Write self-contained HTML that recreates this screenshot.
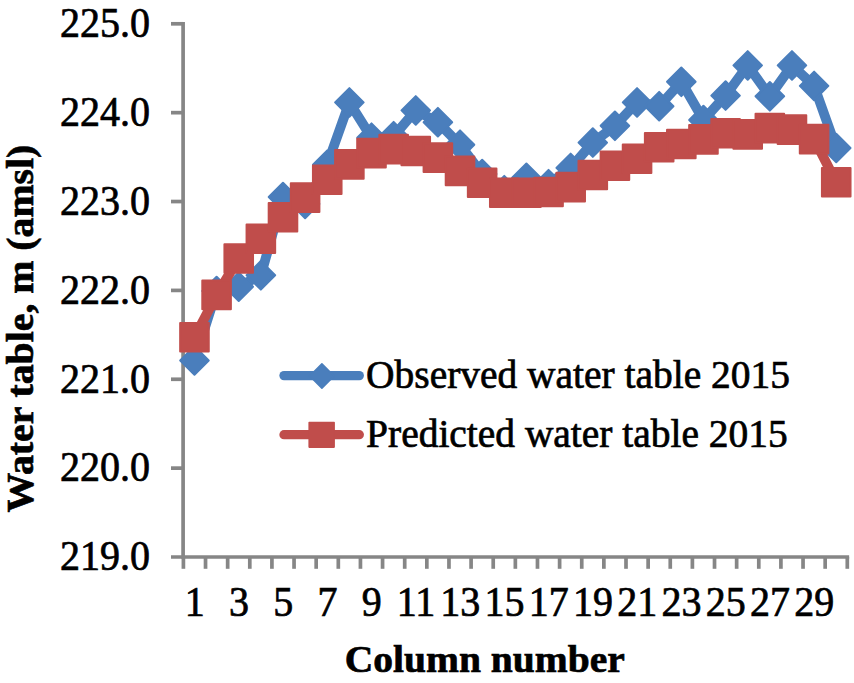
<!DOCTYPE html>
<html><head><meta charset="utf-8"><title>chart</title>
<style>html,body{margin:0;padding:0;background:#fff;}body{width:854px;height:683px;overflow:hidden;}svg{display:block;}text{font-family:"Liberation Serif",serif;fill:#000;stroke:#000;stroke-width:0.7px;}</style></head><body>
<svg width="854" height="683" viewBox="0 0 854 683">
<rect width="854" height="683" fill="#fff"/>
<g stroke="#868686" stroke-width="3.7" fill="none">
<line x1="183.1" y1="21.95" x2="183.1" y2="558.85"/>
<line x1="171" y1="557.0" x2="849.15" y2="557.0"/>
<line x1="171" y1="23.80" x2="183.1" y2="23.80"/>
<line x1="171" y1="112.67" x2="183.1" y2="112.67"/>
<line x1="171" y1="201.53" x2="183.1" y2="201.53"/>
<line x1="171" y1="290.40" x2="183.1" y2="290.40"/>
<line x1="171" y1="379.27" x2="183.1" y2="379.27"/>
<line x1="171" y1="468.13" x2="183.1" y2="468.13"/>
<line x1="183.40" y1="557.0" x2="183.40" y2="568.8"/>
<line x1="205.53" y1="557.0" x2="205.53" y2="568.8"/>
<line x1="227.66" y1="557.0" x2="227.66" y2="568.8"/>
<line x1="249.79" y1="557.0" x2="249.79" y2="568.8"/>
<line x1="271.92" y1="557.0" x2="271.92" y2="568.8"/>
<line x1="294.05" y1="557.0" x2="294.05" y2="568.8"/>
<line x1="316.18" y1="557.0" x2="316.18" y2="568.8"/>
<line x1="338.31" y1="557.0" x2="338.31" y2="568.8"/>
<line x1="360.44" y1="557.0" x2="360.44" y2="568.8"/>
<line x1="382.57" y1="557.0" x2="382.57" y2="568.8"/>
<line x1="404.70" y1="557.0" x2="404.70" y2="568.8"/>
<line x1="426.83" y1="557.0" x2="426.83" y2="568.8"/>
<line x1="448.96" y1="557.0" x2="448.96" y2="568.8"/>
<line x1="471.09" y1="557.0" x2="471.09" y2="568.8"/>
<line x1="493.22" y1="557.0" x2="493.22" y2="568.8"/>
<line x1="515.35" y1="557.0" x2="515.35" y2="568.8"/>
<line x1="537.48" y1="557.0" x2="537.48" y2="568.8"/>
<line x1="559.61" y1="557.0" x2="559.61" y2="568.8"/>
<line x1="581.74" y1="557.0" x2="581.74" y2="568.8"/>
<line x1="603.87" y1="557.0" x2="603.87" y2="568.8"/>
<line x1="626.00" y1="557.0" x2="626.00" y2="568.8"/>
<line x1="648.13" y1="557.0" x2="648.13" y2="568.8"/>
<line x1="670.26" y1="557.0" x2="670.26" y2="568.8"/>
<line x1="692.39" y1="557.0" x2="692.39" y2="568.8"/>
<line x1="714.52" y1="557.0" x2="714.52" y2="568.8"/>
<line x1="736.65" y1="557.0" x2="736.65" y2="568.8"/>
<line x1="758.78" y1="557.0" x2="758.78" y2="568.8"/>
<line x1="780.91" y1="557.0" x2="780.91" y2="568.8"/>
<line x1="803.04" y1="557.0" x2="803.04" y2="568.8"/>
<line x1="825.17" y1="557.0" x2="825.17" y2="568.8"/>
<line x1="847.30" y1="557.0" x2="847.30" y2="568.8"/>
</g>
<text transform="translate(149.90,37.10) scale(1.0,1.035)" font-size="40" text-anchor="end">225.0</text>
<text transform="translate(149.90,125.97) scale(1.0,1.035)" font-size="40" text-anchor="end">224.0</text>
<text transform="translate(149.90,214.83) scale(1.0,1.035)" font-size="40" text-anchor="end">223.0</text>
<text transform="translate(149.90,303.70) scale(1.0,1.035)" font-size="40" text-anchor="end">222.0</text>
<text transform="translate(149.90,392.57) scale(1.0,1.035)" font-size="40" text-anchor="end">221.0</text>
<text transform="translate(149.90,481.43) scale(1.0,1.035)" font-size="40" text-anchor="end">220.0</text>
<text transform="translate(149.90,570.30) scale(1.0,1.035)" font-size="40" text-anchor="end">219.0</text>
<text transform="translate(194.66,616.30) scale(1.0,1.035)" font-size="40" text-anchor="middle">1</text>
<text transform="translate(238.92,616.30) scale(1.0,1.035)" font-size="40" text-anchor="middle">3</text>
<text transform="translate(283.19,616.30) scale(1.0,1.035)" font-size="40" text-anchor="middle">5</text>
<text transform="translate(327.44,616.30) scale(1.0,1.035)" font-size="40" text-anchor="middle">7</text>
<text transform="translate(371.70,616.30) scale(1.0,1.035)" font-size="40" text-anchor="middle">9</text>
<text transform="translate(415.96,616.30) scale(1.0,1.035)" font-size="40" text-anchor="middle">11</text>
<text transform="translate(460.22,616.30) scale(1.0,1.035)" font-size="40" text-anchor="middle">13</text>
<text transform="translate(504.48,616.30) scale(1.0,1.035)" font-size="40" text-anchor="middle">15</text>
<text transform="translate(548.75,616.30) scale(1.0,1.035)" font-size="40" text-anchor="middle">17</text>
<text transform="translate(593.00,616.30) scale(1.0,1.035)" font-size="40" text-anchor="middle">19</text>
<text transform="translate(637.26,616.30) scale(1.0,1.035)" font-size="40" text-anchor="middle">21</text>
<text transform="translate(681.52,616.30) scale(1.0,1.035)" font-size="40" text-anchor="middle">23</text>
<text transform="translate(725.78,616.30) scale(1.0,1.035)" font-size="40" text-anchor="middle">25</text>
<text transform="translate(770.04,616.30) scale(1.0,1.035)" font-size="40" text-anchor="middle">27</text>
<text transform="translate(814.30,616.30) scale(1.0,1.035)" font-size="40" text-anchor="middle">29</text>
<text transform="translate(484.70,671.70) scale(1.0,0.98)" font-size="39.55" text-anchor="middle" font-weight="bold">Column number</text>
<text transform="translate(33.10,328.70) rotate(-90) scale(1.0,0.945)" font-size="39.75" text-anchor="middle" font-weight="bold">Water table, m (amsl)</text>
<polyline points="194.47,360.50 216.59,291.00 238.72,286.70 260.86,275.30 282.99,197.00 305.12,203.90 327.25,164.70 349.38,102.40 371.50,137.70 393.63,136.20 415.76,110.40 437.89,122.20 460.02,144.70 482.15,174.00 504.28,190.20 526.41,177.80 548.54,184.20 570.67,167.90 592.80,142.60 614.93,125.80 637.06,102.40 659.19,106.20 681.32,81.80 703.45,120.00 725.58,95.60 747.71,65.40 769.84,96.30 791.97,65.40 814.10,85.90 836.23,148.00" fill="none" stroke="#4a7ebc" stroke-width="9.8" stroke-linejoin="round" stroke-linecap="round"/>
<g fill="#4a7ebc" stroke="#4a7ebc" stroke-width="2" stroke-linejoin="round">
<path d="M194.47 346.21L208.75 360.50L194.47 374.79L180.18 360.50Z"/>
<path d="M216.59 276.71L230.88 291.00L216.59 305.29L202.31 291.00Z"/>
<path d="M238.72 272.41L253.01 286.70L238.72 300.99L224.44 286.70Z"/>
<path d="M260.86 261.01L275.15 275.30L260.86 289.59L246.57 275.30Z"/>
<path d="M282.99 182.71L297.28 197.00L282.99 211.29L268.69 197.00Z"/>
<path d="M305.12 189.61L319.41 203.90L305.12 218.19L290.82 203.90Z"/>
<path d="M327.25 150.41L341.54 164.70L327.25 178.99L312.95 164.70Z"/>
<path d="M349.38 88.11L363.67 102.40L349.38 116.69L335.08 102.40Z"/>
<path d="M371.50 123.41L385.80 137.70L371.50 151.99L357.21 137.70Z"/>
<path d="M393.63 121.91L407.93 136.20L393.63 150.49L379.34 136.20Z"/>
<path d="M415.76 96.11L430.06 110.40L415.76 124.69L401.47 110.40Z"/>
<path d="M437.89 107.91L452.19 122.20L437.89 136.49L423.60 122.20Z"/>
<path d="M460.02 130.41L474.31 144.70L460.02 158.99L445.73 144.70Z"/>
<path d="M482.15 159.71L496.44 174.00L482.15 188.29L467.86 174.00Z"/>
<path d="M504.28 175.91L518.57 190.20L504.28 204.49L489.99 190.20Z"/>
<path d="M526.41 163.51L540.70 177.80L526.41 192.09L512.12 177.80Z"/>
<path d="M548.54 169.91L562.83 184.20L548.54 198.49L534.25 184.20Z"/>
<path d="M570.67 153.61L584.96 167.90L570.67 182.19L556.38 167.90Z"/>
<path d="M592.80 128.31L607.09 142.60L592.80 156.89L578.51 142.60Z"/>
<path d="M614.93 111.51L629.22 125.80L614.93 140.09L600.64 125.80Z"/>
<path d="M637.06 88.11L651.35 102.40L637.06 116.69L622.77 102.40Z"/>
<path d="M659.19 91.91L673.48 106.20L659.19 120.49L644.90 106.20Z"/>
<path d="M681.32 67.51L695.61 81.80L681.32 96.09L667.03 81.80Z"/>
<path d="M703.45 105.71L717.74 120.00L703.45 134.29L689.16 120.00Z"/>
<path d="M725.58 81.31L739.87 95.60L725.58 109.89L711.29 95.60Z"/>
<path d="M747.71 51.11L762.00 65.40L747.71 79.69L733.42 65.40Z"/>
<path d="M769.84 82.01L784.13 96.30L769.84 110.59L755.55 96.30Z"/>
<path d="M791.97 51.11L806.26 65.40L791.97 79.69L777.68 65.40Z"/>
<path d="M814.10 71.61L828.39 85.90L814.10 100.19L799.81 85.90Z"/>
<path d="M836.23 133.71L850.52 148.00L836.23 162.29L821.94 148.00Z"/>
</g>
<polyline points="194.47,337.20 216.59,294.90 238.72,258.50 260.86,238.80 282.99,217.20 305.12,197.60 327.25,179.80 349.38,164.40 371.50,153.10 393.63,149.10 415.76,151.00 437.89,157.60 460.02,170.90 482.15,182.70 504.28,192.80 526.41,192.70 548.54,192.00 570.67,187.10 592.80,175.00 614.93,165.80 637.06,158.70 659.19,147.20 681.32,144.00 703.45,139.40 725.58,133.20 747.71,134.40 769.84,128.10 791.97,129.60 814.10,139.10 836.23,182.30" fill="none" stroke="#c04d4b" stroke-width="9.8" stroke-linejoin="round" stroke-linecap="round"/>
<g fill="#c04d4b" stroke="#c04d4b" stroke-width="2" stroke-linejoin="round">
<rect x="180.16" y="322.90" width="28.6" height="28.6"/>
<rect x="202.29" y="280.60" width="28.6" height="28.6"/>
<rect x="224.42" y="244.20" width="28.6" height="28.6"/>
<rect x="246.56" y="224.50" width="28.6" height="28.6"/>
<rect x="268.69" y="202.90" width="28.6" height="28.6"/>
<rect x="290.81" y="183.30" width="28.6" height="28.6"/>
<rect x="312.94" y="165.50" width="28.6" height="28.6"/>
<rect x="335.07" y="150.10" width="28.6" height="28.6"/>
<rect x="357.20" y="138.80" width="28.6" height="28.6"/>
<rect x="379.33" y="134.80" width="28.6" height="28.6"/>
<rect x="401.46" y="136.70" width="28.6" height="28.6"/>
<rect x="423.59" y="143.30" width="28.6" height="28.6"/>
<rect x="445.72" y="156.60" width="28.6" height="28.6"/>
<rect x="467.85" y="168.40" width="28.6" height="28.6"/>
<rect x="489.98" y="178.50" width="28.6" height="28.6"/>
<rect x="512.12" y="178.40" width="28.6" height="28.6"/>
<rect x="534.25" y="177.70" width="28.6" height="28.6"/>
<rect x="556.38" y="172.80" width="28.6" height="28.6"/>
<rect x="578.50" y="160.70" width="28.6" height="28.6"/>
<rect x="600.63" y="151.50" width="28.6" height="28.6"/>
<rect x="622.76" y="144.40" width="28.6" height="28.6"/>
<rect x="644.89" y="132.90" width="28.6" height="28.6"/>
<rect x="667.02" y="129.70" width="28.6" height="28.6"/>
<rect x="689.15" y="125.10" width="28.6" height="28.6"/>
<rect x="711.28" y="118.90" width="28.6" height="28.6"/>
<rect x="733.41" y="120.10" width="28.6" height="28.6"/>
<rect x="755.54" y="113.80" width="28.6" height="28.6"/>
<rect x="777.67" y="115.30" width="28.6" height="28.6"/>
<rect x="799.80" y="124.80" width="28.6" height="28.6"/>
<rect x="821.93" y="168.00" width="28.6" height="28.6"/>
</g>
<line x1="284" y1="375.6" x2="359.3" y2="375.6" stroke="#4a7ebc" stroke-width="9.3" stroke-linecap="round"/>
<path d="M321.9 363.8L334.09999999999997 376.0L321.9 388.2L309.7 376.0Z" fill="#4a7ebc" stroke="#4a7ebc" stroke-width="1.6" stroke-linejoin="round"/>
<line x1="284" y1="434.7" x2="359.3" y2="434.7" stroke="#c04d4b" stroke-width="9.3" stroke-linecap="round"/>
<rect x="309.2" y="422.5" width="24.9" height="24.6" fill="#c04d4b" stroke="#c04d4b" stroke-width="1.6" stroke-linejoin="round"/>
<text transform="translate(366.10,387.70) scale(1.0,1.0)" font-size="39.45" text-anchor="start">Observed water table 2015</text>
<text transform="translate(366.10,447.00) scale(1.0,1.0)" font-size="39.45" text-anchor="start">Predicted water table 2015</text>
</svg></body></html>
